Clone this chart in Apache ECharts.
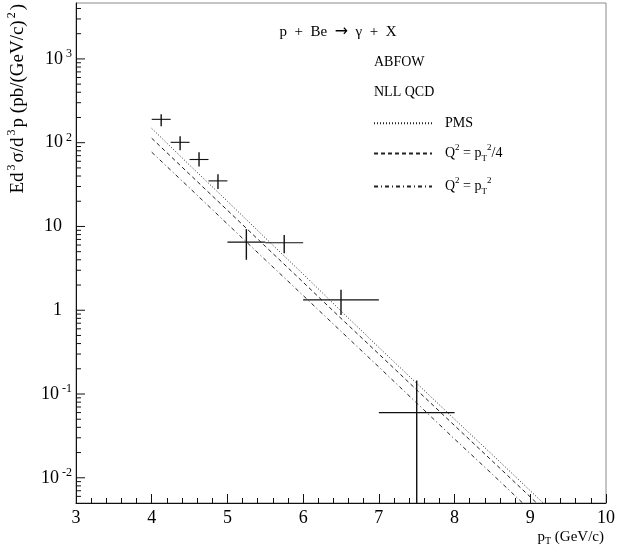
<!DOCTYPE html>
<html><head><meta charset="utf-8">
<script src="https://cdn.jsdelivr.net/npm/echarts@6/dist/echarts.min.js"></script>
<style>html,body{margin:0;padding:0;background:#fff}#c{width:636px;height:548px}</style>
</head><body><div id="c"></div>
<script>
// ---- data points (pT bin centre, bin edges, value, error limits) ----
const ptX   = [4.125, 4.375, 4.625, 4.875, 5.25, 5.75, 6.5, 7.5];
const xLow  = [4.0, 4.25, 4.5, 4.75, 5.0, 5.5, 6.0, 7.0];
const xHigh = [4.25, 4.5, 4.75, 5.0, 5.5, 6.0, 7.0, 8.0];
const ptY   = [190, 101, 63, 35, 6.5, 6.4, 1.33, 0.060];
const yLow  = [157, 81, 52, 28, 4.0, 4.8, 0.88, 0.001];
const yHigh = [218, 119, 77, 42, 9.3, 7.9, 1.75, 0.145];

// ---- NLL QCD curves ----
const curveX = [4, 4.5, 5, 5.5, 6, 6.5, 7, 7.5, 8, 8.5, 9, 9.5];
const pms  = [148, 54, 20, 7.3, 2.7, 0.98, 0.36, 0.134, 0.050, 0.0188, 0.0070, 0.0026];
const q2q  = [113, 42, 15.6, 5.8, 2.16, 0.80, 0.30, 0.112, 0.042, 0.0158, 0.0059, 0.0022];
const q2   = [77, 28.8, 10.7, 4.0, 1.50, 0.56, 0.21, 0.078, 0.029, 0.0110, 0.0041, 0.0015];

// ---- axes ----
const xMin = 3, xMax = 10;
const yMin = 0.005, yMax = 4650;
const yExps = [-3, -2, -1, 0, 1, 2, 3];
const yMult = [1, 2, 3, 4, 5, 6, 7, 8, 9];

const FONT = '"Liberation Serif","DejaVu Serif",serif';

const tickData = [];
yExps.forEach(e => yMult.forEach(m => {
  const v = m * Math.pow(10, e);
  if (v > yMin && v < yMax) tickData.push([xMin, v, m === 1 ? 1 : 0]);
}));

const errData = ptX.map((x, i) => [x, ptY[i], xLow[i], xHigh[i], yLow[i], yHigh[i]]);

const legendLabels = {
  'PMS': '{t|PMS}',
  'Q2/4': '{t|Q}{s|2}{t| = p}{sub|T}{s|2}{t|/4}',
  'Q2': '{t|Q}{s|2}{t| = p}{sub|T}{s|2}'
};

const richText = {
  t: {fontFamily: FONT, fontSize: 14, lineHeight: 20, color: '#000'},
  s: {fontFamily: FONT, fontSize: 9, lineHeight: 10, verticalAlign: 'top', color: '#000'},
  sub: {fontFamily: FONT, fontSize: 9, lineHeight: 10, verticalAlign: 'bottom', color: '#000'}
};

function lineSeries(name, vals, dash) {
  return {
    name, type: 'line', data: curveX.map((x, i) => [x, vals[i]]),
    symbol: 'none', showSymbol: false, clip: true, silent: true,
    color: '#222',
    lineStyle: {color: '#222', width: 1, type: dash}
  };
}

const chart = echarts.init(document.getElementById('c'), null, {renderer: 'canvas'});
chart.setOption({
  animation: false,
  backgroundColor: '#fff',
  grid: {left: 76, right: 30, top: 3, bottom: 45, show: true, borderColor: '#8a8a8a', borderWidth: 1},
  xAxis: {
    type: 'value', min: xMin, max: xMax, interval: 1,
    axisLine: {show: true, onZero: false, lineStyle: {color: '#111', width: 1}},
    axisTick: {show: true, inside: true, length: 9, lineStyle: {color: '#111'}},
    minorTick: {show: true, splitNumber: 5, length: 5, lineStyle: {color: '#111'}},
    splitLine: {show: false},
    axisLabel: {fontFamily: FONT, fontSize: 18, color: '#000', margin: 6}
  },
  yAxis: {
    type: 'log', logBase: 10, min: yMin, max: yMax,
    axisLine: {show: true, lineStyle: {color: '#111', width: 1}},
    axisTick: {show: false},
    splitLine: {show: false},
    axisLabel: {
      showMinLabel: false, showMaxLabel: false, margin: 4,
      formatter: v => {
        const l = Math.log10(v), e = Math.round(l);
        if (Math.abs(l - e) > 1e-6) return '';
        if (e === 0) return '{b|1}{sp|}';
        if (e === 1) return '{b|10}{sp|}';
        return '{b|10}{e|' + e + '}';
      },
      rich: {
        b: {fontFamily: FONT, fontSize: 18, lineHeight: 22, color: '#000'},
        e: {fontFamily: FONT, fontSize: 12, lineHeight: 12, verticalAlign: 'top', color: '#000', padding: [0, 0, 0, 3]},
        sp: {width: 10}
      }
    }
  },
  legend: {
    data: ['PMS', 'Q2/4', 'Q2'], orient: 'vertical', left: 368, top: 111,
    itemWidth: 58, itemHeight: 18, itemGap: 13, selectedMode: false,
    itemStyle: {opacity: 0, borderWidth: 0},
    formatter: n => legendLabels[n],
    textStyle: {rich: richText, padding: [0, 0, 0, 8]}
  },
  graphic: [
    {type: 'text', x: 338, y: 32, style: {
      text: '{t|p  +  Be  }{a|\u2192}{t|  \u03b3  +  X}', align: 'center', verticalAlign: 'middle',
      rich: {
        t: {fontFamily: FONT, fontSize: 15, lineHeight: 20, color: '#000'},
        a: {fontFamily: '"DejaVu Sans",sans-serif', fontSize: 16, lineHeight: 20, color: '#000'}
      }}},
    {type: 'text', x: 374, y: 62, style: {text: 'ABFOW', font: '14px ' + FONT, fill: '#000', align: 'left', verticalAlign: 'middle'}},
    {type: 'text', x: 374, y: 92, style: {text: 'NLL QCD', font: '14px ' + FONT, fill: '#000', align: 'left', verticalAlign: 'middle'}},
    {type: 'text', x: 18, y: 4, rotation: Math.PI / 2, style: {
      text: '{t|Ed}{s|3}{t|\u03c3/d}{s|3}{t|p (pb/(GeV/c)}{s|2}{t|)}', align: 'right', verticalAlign: 'middle',
      rich: {
        t: {fontFamily: FONT, fontSize: 19, lineHeight: 24, color: '#000'},
        s: {fontFamily: FONT, fontSize: 12, lineHeight: 12, verticalAlign: 'top', color: '#000', padding: [0, 2, 0, 2]}
      }}},
    {type: 'text', x: 604, y: 537, style: {
      text: '{t|p}{sub|T}{t| (GeV/c)}', align: 'right', verticalAlign: 'middle',
      rich: {
        t: {fontFamily: FONT, fontSize: 15, lineHeight: 18, color: '#000'},
        sub: {fontFamily: FONT, fontSize: 10, lineHeight: 10, verticalAlign: 'bottom', color: '#000'}
      }}}
  ],
  series: [
    lineSeries('PMS', pms, [1, 2]),
    lineSeries('Q2/4', q2q, [4, 3]),
    lineSeries('Q2', q2, [4, 3, 1, 3]),
    {
      type: 'custom', name: 'ticks', data: tickData, silent: true, clip: false,
      encode: {x: 0, y: 1},
      renderItem: (params, api) => {
        const p = api.coord([api.value(0), api.value(1)]);
        const len = api.value(2) ? 9 : 5;
        return {type: 'line', shape: {x1: p[0], y1: p[1], x2: p[0] + len, y2: p[1]}, style: {stroke: '#111', lineWidth: 1}};
      }
    },
    {
      type: 'custom', name: 'data', data: errData, silent: true, clip: true,
      encode: {x: [0, 2, 3], y: [1, 4, 5]},
      renderItem: (params, api) => {
        const c = api.coord([api.value(0), api.value(1)]);
        const l = api.coord([api.value(2), api.value(1)]);
        const r = api.coord([api.value(3), api.value(1)]);
        const lo = api.coord([api.value(0), api.value(4)]);
        const hi = api.coord([api.value(0), api.value(5)]);
        return {type: 'group', children: [
          {type: 'line', shape: {x1: l[0], y1: c[1], x2: r[0], y2: c[1]}, style: {stroke: '#111', lineWidth: 1.1}},
          {type: 'line', shape: {x1: c[0], y1: lo[1], x2: c[0], y2: hi[1]}, style: {stroke: '#111', lineWidth: 1.4}}
        ]};
      }
    }
  ]
});
</script></body></html>
